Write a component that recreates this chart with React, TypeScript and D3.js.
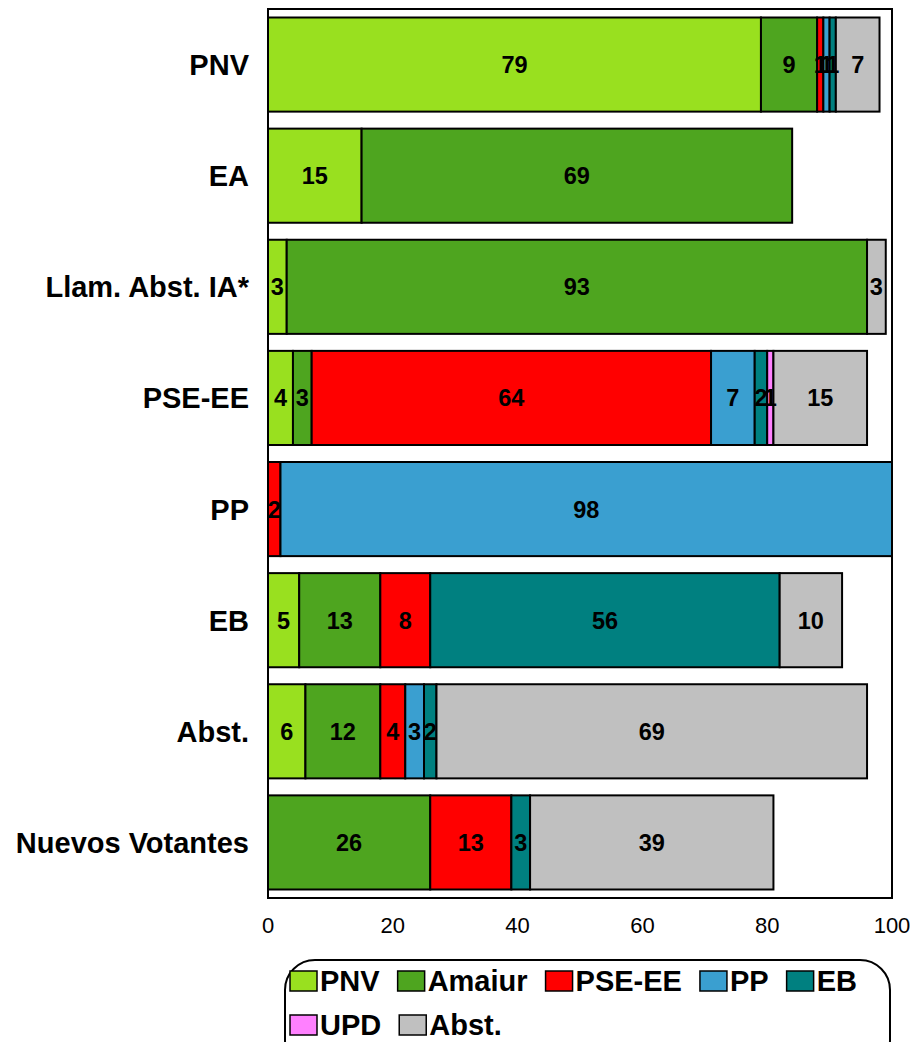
import React, { useEffect, useRef } from "react";
import * as d3 from "d3";

const categories = ["PNV", "EA", "Llam. Abst. IA*", "PSE-EE", "PP", "EB", "Abst.", "Nuevos Votantes"];
const seriesNames = ["PNV", "Amaiur", "PSE-EE", "PP", "EB", "UPD", "Abst."];
const seriesColors = ["#99E01F", "#4EA51F", "#FF0000", "#3A9FD0", "#008080", "#FF80FF", "#C0C0C0"];

const pnvValues = [79, 15, 3, 4, 0, 5, 6, 0];
const amaiurValues = [9, 69, 93, 3, 0, 13, 12, 26];
const pseValues = [1, 0, 0, 64, 2, 8, 4, 13];
const ppValues = [1, 0, 0, 7, 98, 0, 3, 0];
const ebValues = [1, 0, 0, 2, 0, 56, 2, 3];
const updValues = [0, 0, 0, 1, 0, 0, 0, 0];
const abstValues = [7, 0, 3, 15, 0, 10, 69, 39];

const xTicks = [0, 20, 40, 60, 80, 100];

const W = 915;
const H = 1042;
const FONT = "Arial, 'Liberation Sans', sans-serif";

export default function App() {
  const ref = useRef<SVGSVGElement | null>(null);

  useEffect(() => {
    const svg = d3.select(ref.current);
    svg.selectAll("*").remove();

    const allValues = [pnvValues, amaiurValues, pseValues, ppValues, ebValues, updValues, abstValues];
    const rows = categories.map((c, i) => {
      const r: any = { cat: c };
      seriesNames.forEach((s, j) => (r[s] = allValues[j][i]));
      return r;
    });

    const left = 268, right = 892, top = 9, bottom = 898;
    const x = d3.scaleLinear().domain([0, 100]).range([left, right]);
    const y = d3.scaleBand<string>().domain(categories).range([top, bottom]).paddingInner(0.153).paddingOuter(0.0765);
    const color = d3.scaleOrdinal<string, string>().domain(seriesNames).range(seriesColors);

    const stacked = d3.stack<any>().keys(seriesNames)(rows);

    svg.append("rect").attr("x", left).attr("y", top).attr("width", right - left).attr("height", bottom - top)
      .attr("fill", "none").attr("stroke", "#000").attr("stroke-width", 2);

    const g = svg.append("g");
    stacked.forEach((layer) => {
      layer.forEach((d: any) => {
        if (d[1] - d[0] <= 0) return;
        g.append("rect")
          .attr("x", x(d[0]))
          .attr("y", y(d.data.cat)!)
          .attr("width", x(d[1]) - x(d[0]))
          .attr("height", y.bandwidth())
          .attr("fill", color(layer.key))
          .attr("stroke", "#000")
          .attr("stroke-width", 2);
      });
    });
    stacked.forEach((layer) => {
      layer.forEach((d: any) => {
        const v = d[1] - d[0];
        if (v <= 0) return;
        g.append("text")
          .attr("x", x((d[0] + d[1]) / 2))
          .attr("y", y(d.data.cat)! + y.bandwidth() / 2)
          .attr("dy", "0.36em")
          .attr("text-anchor", "middle")
          .attr("font-family", FONT)
          .attr("font-weight", "bold")
          .attr("font-size", 23.5)
          .attr("fill", "#000")
          .text(v);
      });
    });

    categories.forEach((c) => {
      svg.append("text")
        .attr("x", 249)
        .attr("y", y(c)! + y.bandwidth() / 2)
        .attr("dy", "0.36em")
        .attr("text-anchor", "end")
        .attr("font-family", FONT)
        .attr("font-weight", "bold")
        .attr("font-size", 29)
        .text(c);
    });

    xTicks.forEach((t) => {
      svg.append("text")
        .attr("x", x(t))
        .attr("y", 933)
        .attr("text-anchor", "middle")
        .attr("font-family", FONT)
        .attr("font-size", 22)
        .text(t);
    });

    const lg = svg.append("g");
    lg.append("rect").attr("x", 285).attr("y", 960).attr("width", 605).attr("height", 110)
      .attr("rx", 30).attr("ry", 30).attr("fill", "none").attr("stroke", "#000").attr("stroke-width", 2);
    const rowsLayout = [[0, 1, 2, 3, 4], [5, 6]];
    const rowY = [981, 1025];
    rowsLayout.forEach((items, ri) => {
      let cx = 290;
      items.forEach((idx) => {
        lg.append("rect").attr("x", cx).attr("y", rowY[ri] - 10).attr("width", 27).attr("height", 20)
          .attr("fill", seriesColors[idx]).attr("stroke", "#000").attr("stroke-width", 1.5);
        const t = lg.append("text")
          .attr("x", cx + 30)
          .attr("y", rowY[ri])
          .attr("dy", "0.36em")
          .attr("font-family", FONT)
          .attr("font-weight", "bold")
          .attr("font-size", 29)
          .text(seriesNames[idx]);
        const w = (t.node() as SVGTextElement).getComputedTextLength();
        cx = cx + 30 + w + 18;
      });
    });
  }, []);

  return (
    <svg ref={ref} width={W} height={H} style={{ position: "absolute", left: 0, top: 0, background: "#fff" }} />
  );
}
